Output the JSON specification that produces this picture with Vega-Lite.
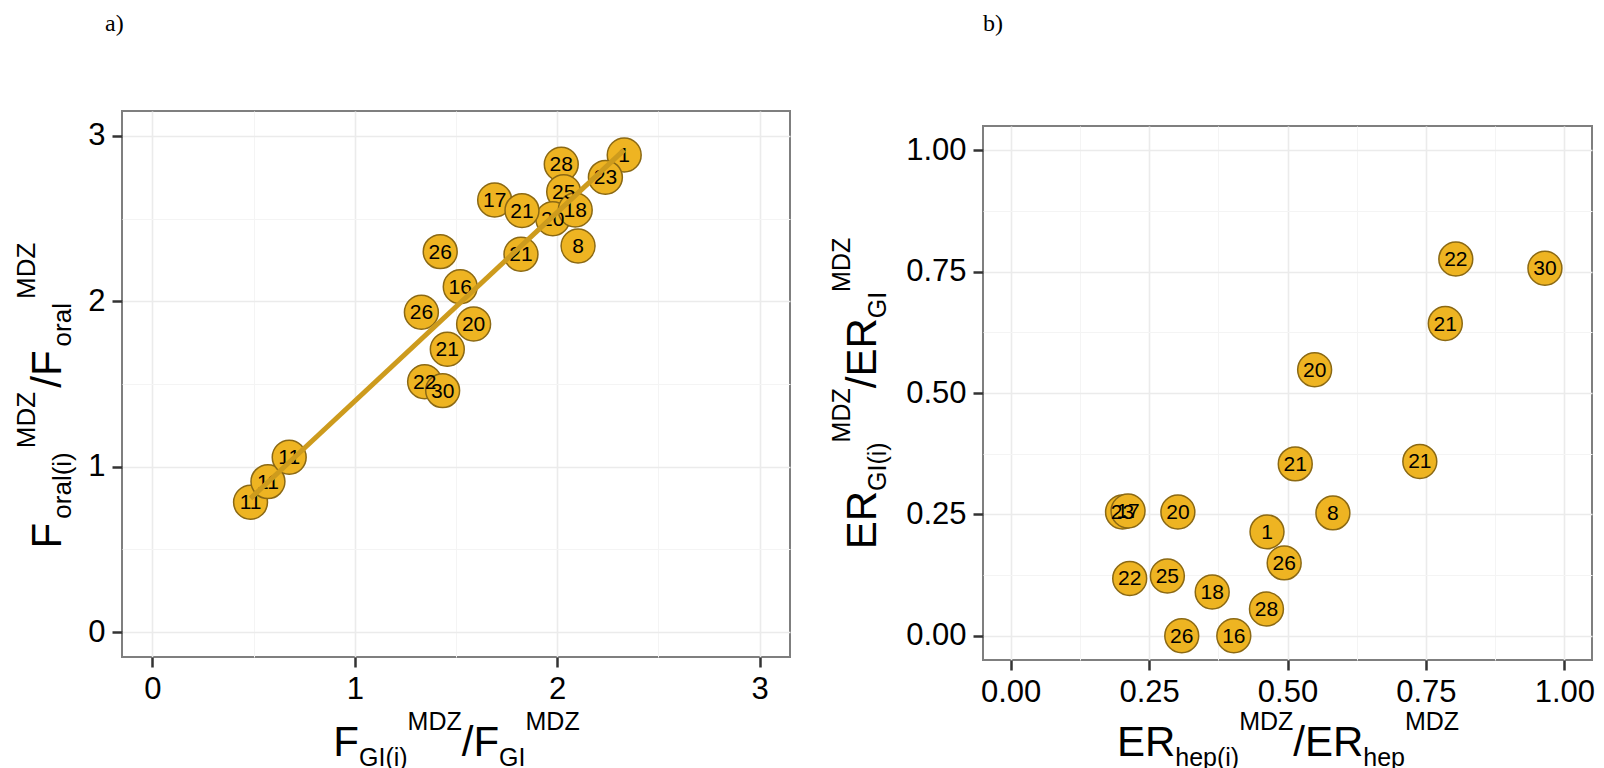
{
 "$schema": "https://vega.github.io/schema/vega-lite/v6.json",
 "background": "white",
 "padding": {"left": 12, "top": 12, "right": 5, "bottom": 0},
 "spacing": 37,
 "config": {
   "view": {"stroke": "#7F7F7F", "strokeWidth": 2},
   "axis": {"domain": false, "labelFont": "Liberation Sans", "labelColor": "#000000", "labelFlush": false, "labelOverlap": false, "labelBound": false}
 },
 "hconcat": [
  {"spacing": 54, "vconcat": [
  {
   "width": 668, "height": 1,
   "view": {"stroke": null},
   "title": {"text": "a)", "anchor": "start", "frame": "group", "baseline": "alphabetic", "offset": 0, "dx": -17, "font": "Liberation Serif", "fontSize": 24, "fontWeight": "normal", "color": "#000000"},
   "data": {"values": []},
   "mark": {"type": "rule"},
   "encoding": {}
  },
  {
   "width": 668, "height": 546,
   "data": {"values": [
     {"id": "1", "x": 2.331, "y": 2.884},
     {"id": "28", "x": 2.020, "y": 2.828},
     {"id": "23", "x": 2.238, "y": 2.749},
     {"id": "25", "x": 2.032, "y": 2.662},
     {"id": "17", "x": 1.691, "y": 2.612},
     {"id": "20", "x": 1.978, "y": 2.499},
     {"id": "21", "x": 1.826, "y": 2.548},
     {"id": "18", "x": 2.089, "y": 2.552},
     {"id": "8", "x": 2.103, "y": 2.334},
     {"id": "21", "x": 1.821, "y": 2.284},
     {"id": "26", "x": 1.422, "y": 2.300},
     {"id": "16", "x": 1.521, "y": 2.088},
     {"id": "26", "x": 1.329, "y": 1.934},
     {"id": "20", "x": 1.587, "y": 1.863},
     {"id": "21", "x": 1.457, "y": 1.710},
     {"id": "22", "x": 1.345, "y": 1.514},
     {"id": "30", "x": 1.434, "y": 1.460},
     {"id": "11", "x": 0.485, "y": 0.785},
     {"id": "11", "x": 0.571, "y": 0.910},
     {"id": "11", "x": 0.676, "y": 1.057}
   ]},
   "resolve": {"axis": {"x": "independent", "y": "independent"}},
   "layer": [
    {
     "mark": {"type": "circle", "size": 1150, "fill": "#EEB422", "stroke": "#8B6914", "strokeWidth": 1.5, "opacity": 1, "fillOpacity": 1},
     "encoding": {
       "x": {"field": "x", "type": "quantitative", "scale": {"domain": [-0.15, 3.15], "nice": false, "zero": false},
         "axis": {"orient": "bottom", "title": null, "values": [0, 0.5, 1, 1.5, 2, 2.5, 3], "labelExpr": "datum.value % 1 ? '' : format(datum.value, 'd')", "labelFontSize": 31, "labelPadding": 7, "tickSize": 10, "tickWidth": 2.5, "tickColor": "#333333", "tickOpacity": {"condition": {"test": "datum.value % 1", "value": 0}, "value": 1}, "grid": true, "gridColor": {"condition": {"test": "datum.value % 1", "value": "#F4F4F4"}, "value": "#EBEBEB"}, "gridWidth": {"condition": {"test": "datum.value % 1", "value": 1}, "value": 1.6}}},
       "y": {"field": "y", "type": "quantitative", "scale": {"domain": [-0.15, 3.15], "nice": false, "zero": false},
         "axis": {"orient": "left", "title": null, "values": [0, 0.5, 1, 1.5, 2, 2.5, 3], "labelExpr": "datum.value % 1 ? '' : format(datum.value, 'd')", "labelFontSize": 31, "labelPadding": 7, "tickSize": 10, "tickWidth": 2.5, "tickColor": "#333333", "tickOpacity": {"condition": {"test": "datum.value % 1", "value": 0}, "value": 1}, "grid": true, "gridColor": {"condition": {"test": "datum.value % 1", "value": "#F4F4F4"}, "value": "#EBEBEB"}, "gridWidth": {"condition": {"test": "datum.value % 1", "value": 1}, "value": 1.6}}}
     }
    },
    {
     "mark": {"type": "text", "font": "Liberation Sans", "fontSize": 21, "color": "#000000", "baseline": "middle", "align": "center", "dy": 1},
     "encoding": {
       "text": {"field": "id", "type": "nominal"},
       "x": {"field": "x", "type": "quantitative", "scale": {"domain": [-0.15, 3.15], "nice": false, "zero": false},
         "axis": {"orient": "bottom", "title": null, "values": [0.8916, 1.0184, 1.2585, 1.526, 1.7105, 1.8409], "grid": false, "ticks": false, "tickSize": 0, "domain": false, "labelAlign": "left", "labelBaseline": "alphabetic",
           "labelExpr": "datum.value < 0.95 ? 'F' : datum.value < 1.1 ? 'GI(i)' : datum.value < 1.4 ? 'MDZ' : datum.value < 1.6 ? '/F' : datum.value < 1.78 ? 'GI' : 'MDZ'",
           "labelFontSize": {"condition": {"test": "datum.value < 0.95 || (datum.value > 1.4 && datum.value < 1.6)", "value": 42}, "value": 25},
           "labelPadding": {"condition": [{"test": "(datum.value > 0.95 && datum.value < 1.1) || (datum.value > 1.6 && datum.value < 1.78)", "value": 108}, {"test": "(datum.value > 1.1 && datum.value < 1.4) || datum.value > 1.78", "value": 72}], "value": 98}
         }},
       "y": {"field": "y", "type": "quantitative", "scale": {"domain": [-0.15, 3.15], "nice": false, "zero": false},
         "axis": {"orient": "left", "title": null, "values": [0.5088, 0.6889, 1.115, 1.4801, 1.7303, 2.0168], "grid": false, "ticks": false, "tickSize": 0, "domain": false, "labelAngle": -90, "labelAlign": "left", "labelBaseline": "alphabetic",
           "labelExpr": "datum.value < 0.6 ? 'F' : datum.value < 0.9 ? 'oral(i)' : datum.value < 1.3 ? 'MDZ' : datum.value < 1.6 ? '/F' : datum.value < 1.9 ? 'oral' : 'MDZ'",
           "labelFontSize": {"condition": {"test": "datum.value < 0.6 || (datum.value > 1.3 && datum.value < 1.6)", "value": 42}, "value": 26},
           "labelPadding": {"condition": [{"test": "(datum.value > 0.6 && datum.value < 0.9) || (datum.value > 1.6 && datum.value < 1.9)", "value": 52}, {"test": "(datum.value > 0.9 && datum.value < 1.3) || datum.value > 1.9", "value": 88}], "value": 62}
         }}
     }
    },
    {
     "transform": [{"regression": "y", "on": "x"}],
     "mark": {"type": "line", "color": "#CD9B1D", "strokeWidth": 5},
     "encoding": {
       "x": {"field": "x", "type": "quantitative", "scale": {"domain": [-0.15, 3.15], "nice": false, "zero": false}, "axis": null},
       "y": {"field": "y", "type": "quantitative", "scale": {"domain": [-0.15, 3.15], "nice": false, "zero": false}, "axis": null}
     }
    }
   ]
  }
  ]},
  {"spacing": 69, "vconcat": [
  {
   "width": 609, "height": 1,
   "view": {"stroke": null},
   "title": {"text": "b)", "anchor": "start", "frame": "group", "baseline": "alphabetic", "offset": 0, "dx": 0, "font": "Liberation Serif", "fontSize": 24, "fontWeight": "normal", "color": "#000000"},
   "data": {"values": []},
   "mark": {"type": "rule"},
   "encoding": {}
  },
  {
   "width": 609, "height": 534,
   "data": {"values": [
     {"id": "22", "x": 0.804, "y": 0.776},
     {"id": "30", "x": 0.965, "y": 0.757},
     {"id": "21", "x": 0.785, "y": 0.643},
     {"id": "20", "x": 0.549, "y": 0.548},
     {"id": "21", "x": 0.514, "y": 0.354},
     {"id": "21", "x": 0.739, "y": 0.359},
     {"id": "23", "x": 0.202, "y": 0.255},
     {"id": "17", "x": 0.212, "y": 0.257},
     {"id": "20", "x": 0.302, "y": 0.255},
     {"id": "8", "x": 0.582, "y": 0.253},
     {"id": "1", "x": 0.463, "y": 0.214},
     {"id": "26", "x": 0.494, "y": 0.150},
     {"id": "22", "x": 0.215, "y": 0.118},
     {"id": "25", "x": 0.283, "y": 0.123},
     {"id": "18", "x": 0.364, "y": 0.090},
     {"id": "28", "x": 0.462, "y": 0.055},
     {"id": "26", "x": 0.309, "y": 0.0},
     {"id": "16", "x": 0.403, "y": 0.0}
   ]},
   "resolve": {"axis": {"x": "independent", "y": "independent"}},
   "layer": [
    {
     "mark": {"type": "circle", "size": 1150, "fill": "#EEB422", "stroke": "#8B6914", "strokeWidth": 1.5, "opacity": 1, "fillOpacity": 1},
     "encoding": {
       "x": {"field": "x", "type": "quantitative", "scale": {"domain": [-0.05, 1.05], "nice": false, "zero": false},
         "axis": {"orient": "bottom", "title": null, "values": [0, 0.125, 0.25, 0.375, 0.5, 0.625, 0.75, 0.875, 1], "labelExpr": "(datum.value * 8) % 2 ? '' : format(datum.value, '.2f')", "labelFontSize": 31, "labelPadding": 7, "tickSize": 10, "tickWidth": 2.5, "tickColor": "#333333", "tickOpacity": {"condition": {"test": "(datum.value * 8) % 2", "value": 0}, "value": 1}, "grid": true, "gridColor": {"condition": {"test": "(datum.value * 8) % 2", "value": "#F4F4F4"}, "value": "#EBEBEB"}, "gridWidth": {"condition": {"test": "(datum.value * 8) % 2", "value": 1}, "value": 1.6}}},
       "y": {"field": "y", "type": "quantitative", "scale": {"domain": [-0.05, 1.05], "nice": false, "zero": false},
         "axis": {"orient": "left", "title": null, "values": [0, 0.125, 0.25, 0.375, 0.5, 0.625, 0.75, 0.875, 1], "labelExpr": "(datum.value * 8) % 2 ? '' : format(datum.value, '.2f')", "labelFontSize": 31, "labelPadding": 7, "tickSize": 10, "tickWidth": 2.5, "tickColor": "#333333", "tickOpacity": {"condition": {"test": "(datum.value * 8) % 2", "value": 0}, "value": 1}, "grid": true, "gridColor": {"condition": {"test": "(datum.value * 8) % 2", "value": "#F4F4F4"}, "value": "#EBEBEB"}, "gridWidth": {"condition": {"test": "(datum.value * 8) % 2", "value": 1}, "value": 1.6}}}
     }
    },
    {
     "mark": {"type": "text", "font": "Liberation Sans", "fontSize": 21, "color": "#000000", "baseline": "middle", "align": "center", "dy": 1},
     "encoding": {
       "text": {"field": "id", "type": "nominal"},
       "x": {"field": "x", "type": "quantitative", "scale": {"domain": [-0.05, 1.05], "nice": false, "zero": false},
         "axis": {"orient": "bottom", "title": null, "values": [0.19095, 0.29633, 0.41175, 0.50955, 0.63599, 0.71131], "grid": false, "ticks": false, "tickSize": 0, "domain": false, "labelAlign": "left", "labelBaseline": "alphabetic",
           "labelExpr": "datum.value < 0.25 ? 'ER' : datum.value < 0.35 ? 'hep(i)' : datum.value < 0.46 ? 'MDZ' : datum.value < 0.57 ? '/ER' : datum.value < 0.67 ? 'hep' : 'MDZ'",
           "labelFontSize": {"condition": {"test": "datum.value < 0.25 || (datum.value > 0.46 && datum.value < 0.57)", "value": 42}, "value": 25},
           "labelPadding": {"condition": [{"test": "(datum.value > 0.25 && datum.value < 0.35) || (datum.value > 0.57 && datum.value < 0.67)", "value": 105}, {"test": "(datum.value > 0.35 && datum.value < 0.46) || datum.value > 0.67", "value": 69}], "value": 95}
         }},
       "y": {"field": "y", "type": "quantitative", "scale": {"domain": [-0.05, 1.05], "nice": false, "zero": false},
         "axis": {"orient": "left", "title": null, "values": [0.1791, 0.2993, 0.3993, 0.5108, 0.6549, 0.7093], "grid": false, "ticks": false, "tickSize": 0, "domain": false, "labelAngle": -90, "labelAlign": "left", "labelBaseline": "alphabetic",
           "labelExpr": "datum.value < 0.24 ? 'ER' : datum.value < 0.35 ? 'GI(i)' : datum.value < 0.45 ? 'MDZ' : datum.value < 0.58 ? '/ER' : datum.value < 0.68 ? 'GI' : 'MDZ'",
           "labelFontSize": {"condition": {"test": "datum.value < 0.24 || (datum.value > 0.45 && datum.value < 0.58)", "value": 42}, "value": 25},
           "labelPadding": {"condition": [{"test": "(datum.value > 0.24 && datum.value < 0.35) || (datum.value > 0.58 && datum.value < 0.68)", "value": 98}, {"test": "(datum.value > 0.35 && datum.value < 0.45) || datum.value > 0.68", "value": 134}], "value": 108}
         }}
     }
    }
   ]
  }
  ]}
 ]
}
